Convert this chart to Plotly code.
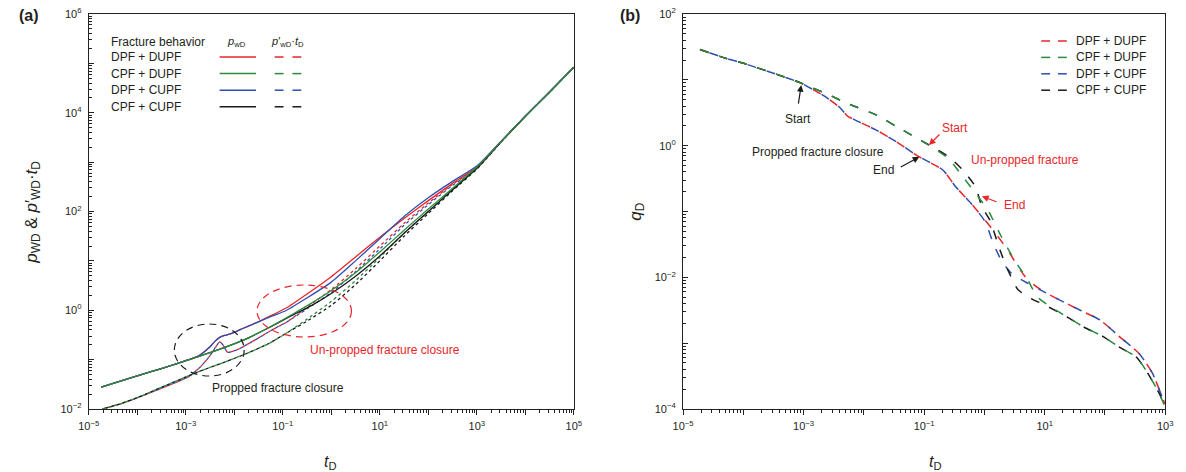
import numpy as np
import plotly.graph_objects as go

W, H = 1186, 472
TOP, BOT = 14, 409          # pixel rows of the plot areas' top and bottom
FONT = "Liberation Sans, Arial, sans-serif"
TXT = "#231f20"
RED, GREEN, BLUE, BLACK = "#e8262a", "#2b8a3e", "#2f4fae", "#1a1a1a"

# ---------------- data, panel (a): log10(tD), log10(p) ----------------
a_red_solid_t = [-4.74, -4.3, -3.9, -3.5, -3.15, -2.9, -2.7, -2.5, -2.4, -2.3, -2.2, -2.08, -1.8, -1.47,
                 -1.2, -0.92, -0.5, 0.0, 0.5, 1.0, 1.5, 2.0, 2.5, 3.0, 3.5, 4.0, 4.5, 5.0]
a_red_solid_p = [-1.555, -1.42, -1.3, -1.18, -1.07, -0.99, -0.9, -0.74, -0.63, -0.55, -0.51, -0.48, -0.36, -0.22,
                 -0.09, 0.05, 0.33, 0.68, 1.08, 1.48, 1.86, 2.22, 2.57, 2.9, 3.42, 3.93, 4.42, 4.92]
a_blue_solid_t = [-4.74, -4.3, -3.9, -3.5, -3.15, -2.9, -2.7, -2.5, -2.4, -2.3, -2.2, -2.08, -1.8, -1.47,
                  -1.2, -0.92, -0.5, 0.0, 0.5, 1.0, 1.5, 2.0, 2.5, 3.0, 3.5, 4.0, 4.5, 5.0]
a_blue_solid_p = [-1.555, -1.42, -1.3, -1.18, -1.07, -0.99, -0.9, -0.74, -0.63, -0.55, -0.51, -0.48, -0.36, -0.22,
                  -0.11, 0.0, 0.25, 0.57, 1.0, 1.45, 1.9, 2.28, 2.61, 2.92, 3.42, 3.93, 4.42, 4.92]
a_green_solid_t = [-4.74, -4.3, -3.9, -3.5, -3.15, -2.5, -1.8, -1.3, -0.78, -0.4, 0.0, 0.5, 1.0,
                   1.5, 2.0, 2.5, 3.0, 3.5, 4.0, 4.5, 5.0]
a_green_solid_p = [-1.555, -1.42, -1.3, -1.18, -1.07, -0.86, -0.6, -0.36, -0.07, 0.15, 0.4, 0.76, 1.18,
                   1.62, 2.05, 2.47, 2.9, 3.42, 3.93, 4.42, 4.92]
a_black_solid_t = [-4.74, -4.3, -3.9, -3.5, -3.15, -2.5, -1.8, -1.3, -0.78, -0.4, 0.0, 0.5, 1.0,
                   1.5, 2.0, 2.5, 3.0, 3.5, 4.0, 4.5, 5.0]
a_black_solid_p = [-1.555, -1.42, -1.3, -1.18, -1.07, -0.86, -0.6, -0.36, -0.09, 0.1, 0.34, 0.69, 1.1,
                   1.56, 2.0, 2.44, 2.88, 3.41, 3.93, 4.42, 4.92]

a_red_dash_t = [-4.72, -4.3, -3.97, -3.5, -2.95, -2.7, -2.5, -2.38, -2.3, -2.22, -2.14, -1.94, -1.5, -1.19,
                -0.92, -0.5, 0.0, 0.5, 1.0, 1.5, 2.0, 2.5, 3.0, 3.5, 4.0, 4.5, 5.0]
a_red_dash_p = [-2.0, -1.88, -1.76, -1.58, -1.35, -1.15, -0.92, -0.74, -0.64, -0.72, -0.85, -0.8, -0.56, -0.38,
                -0.24, 0.06, 0.42, 0.84, 1.3, 1.76, 2.17, 2.55, 2.88, 3.41, 3.93, 4.42, 4.92]
a_blue_dash_t = [-4.72, -4.3, -3.97, -3.5, -2.95, -2.7, -2.5, -2.38, -2.3, -2.22, -2.14, -1.94, -1.5, -1.19,
                 -0.92, -0.5, 0.0, 0.5, 1.0, 1.5, 2.0, 2.5, 3.0, 3.5, 4.0, 4.5, 5.0]
a_blue_dash_p = [-2.0, -1.88, -1.76, -1.58, -1.35, -1.15, -0.92, -0.74, -0.64, -0.72, -0.85, -0.8, -0.56, -0.38,
                 -0.24, 0.03, 0.36, 0.78, 1.24, 1.72, 2.14, 2.53, 2.87, 3.41, 3.93, 4.42, 4.92]
a_green_dash_t = [-4.72, -4.3, -3.97, -3.5, -2.75, -2.2, -1.73, -1.3, -0.92, -0.5, 0.0, 0.5, 1.0,
                  1.5, 2.0, 2.5, 3.0, 3.5, 4.0, 4.5, 5.0]
a_green_dash_p = [-2.0, -1.88, -1.76, -1.56, -1.25, -1.05, -0.87, -0.68, -0.46, -0.18, 0.18, 0.6, 1.07,
                  1.56, 2.0, 2.45, 2.87, 3.41, 3.93, 4.42, 4.92]
a_black_dash_t = [-4.72, -4.3, -3.97, -3.5, -2.75, -2.2, -1.73, -1.3, -0.92, -0.5, 0.0, 0.5, 1.0,
                  1.5, 2.0, 2.5, 3.0, 3.5, 4.0, 4.5, 5.0]
a_black_dash_p = [-2.0, -1.88, -1.76, -1.56, -1.25, -1.05, -0.87, -0.68, -0.46, -0.22, 0.1, 0.52, 1.0,
                  1.5, 1.96, 2.42, 2.86, 3.41, 3.93, 4.42, 4.92]

# ---------------- data, panel (b): log10(tD), log10(qD) ----------------
b_green_t = [-4.72, -4.3, -3.96, -3.5, -3.04, -2.6, -2.27, -1.78, -1.46, -0.92, -0.59, -0.36, -0.1, 0.06,
             0.28, 0.5, 0.72, 0.88, 1.1, 1.37, 1.64, 1.97, 2.24, 2.52, 2.68, 2.9, 3.0]
b_green_q = [1.46, 1.33, 1.24, 1.1, 0.95, 0.78, 0.64, 0.46, 0.29, 0.01, -0.2, -0.47, -0.78, -0.98,
             -1.38, -1.74, -2.04, -2.3, -2.45, -2.6, -2.75, -2.9, -3.06, -3.21, -3.41, -3.76, -3.98]
b_black_t = [-4.72, -4.3, -3.96, -3.5, -3.04, -2.6, -2.27, -1.78, -1.46, -0.92, -0.59, -0.36, -0.15, -0.04,
             0.09, 0.26, 0.39, 0.56, 0.77, 1.0, 1.37, 1.64, 1.97, 2.24, 2.52, 2.68, 2.9, 3.0]
b_black_q = [1.46, 1.33, 1.24, 1.1, 0.95, 0.78, 0.64, 0.46, 0.29, 0.01, -0.17, -0.37, -0.62, -0.93,
             -1.13, -1.59, -1.89, -2.19, -2.32, -2.42, -2.6, -2.75, -2.9, -3.06, -3.21, -3.41, -3.76, -3.98]
b_red_t = [-4.72, -4.3, -3.96, -3.5, -3.04, -2.8, -2.6, -2.4, -2.27, -2.1, -1.8, -1.5, -1.08, -0.69, -0.48,
           -0.2, 0.01, 0.2, 0.39, 0.56, 0.72, 0.99, 1.26, 1.59, 1.92, 2.24, 2.57, 2.79, 2.95, 3.0]
b_red_q = [1.46, 1.33, 1.24, 1.1, 0.95, 0.83, 0.72, 0.58, 0.45, 0.37, 0.24, 0.08, -0.17, -0.37, -0.62,
           -0.9, -1.13, -1.35, -1.59, -1.84, -2.04, -2.22, -2.35, -2.5, -2.65, -2.9, -3.16, -3.46, -3.82, -3.93]
b_blue_t = [-4.72, -4.3, -3.96, -3.5, -3.04, -2.8, -2.6, -2.4, -2.27, -2.1, -1.8, -1.5, -1.08, -0.69, -0.48,
            -0.2, 0.01, 0.15, 0.28, 0.45, 0.72, 0.99, 1.26, 1.59, 1.92, 2.24, 2.57, 2.79, 2.95, 3.0]
b_blue_q = [1.46, 1.33, 1.24, 1.1, 0.95, 0.83, 0.72, 0.58, 0.45, 0.37, 0.24, 0.08, -0.17, -0.37, -0.62,
            -0.9, -1.15, -1.49, -1.74, -1.94, -2.09, -2.22, -2.35, -2.5, -2.65, -2.9, -3.16, -3.46, -3.82, -3.93]

legend_a_rows = ["DPF + DUPF", "CPF + DUPF", "DPF + CUPF", "CPF + CUPF"]
legend_a_colors = [RED, GREEN, BLUE, BLACK]
legend_b_rows = ["DPF + DUPF", "CPF + DUPF", "DPF + CUPF", "CPF + CUPF"]
legend_b_colors = [RED, GREEN, BLUE, BLACK]


def px(x):
    return x / W


def py(y):
    return (BOT - y) / (BOT - TOP)


def sup(k):
    s = str(k).replace("-", "\u2212")
    return f"10<sup>{s}</sup>"


def log_axis(lo, hi, domain, anchor, ticks):
    vals = [10.0 ** k for k in range(lo, hi + 1)]
    text = [sup(k) if (k - lo) % 2 == 0 else "" for k in range(lo, hi + 1)]
    minor = [m * 10.0 ** k for k in range(lo, hi) for m in range(2, 10)]
    return dict(type="log", range=[lo, hi], domain=domain, anchor=anchor,
                tickmode="array", tickvals=vals, ticktext=text,
                ticks=ticks, ticklen=5, tickwidth=1, tickcolor="#222",
                minor=dict(tickmode="array", tickvals=minor, ticks=ticks, ticklen=3,
                           tickwidth=0.8, tickcolor="#222", showgrid=False),
                showline=True, linecolor="#222", linewidth=1.2, mirror=True,
                showgrid=False, zeroline=False,
                tickfont=dict(family=FONT, size=11, color=TXT))


fig = go.Figure()


def add(t, v, color, dash, width, xa, ya, smooth=0.6):
    fig.add_trace(go.Scatter(x=10 ** np.array(t), y=10 ** np.array(v), mode="lines",
                             line=dict(color=color, width=width, dash=dash, shape="spline",
                                       smoothing=smooth),
                             xaxis=xa, yaxis=ya, hoverinfo="skip", showlegend=False))


# panel (a): derivatives (dashed) first, then pressures (solid)
DA = "3px,3px"
DA_OFF = "0px,3px,3px,0px"
add(a_red_dash_t, a_red_dash_p, RED, DA, 1.3, "x", "y")
add(a_blue_dash_t, a_blue_dash_p, BLUE, DA_OFF, 1.3, "x", "y")
add(a_black_dash_t, a_black_dash_p, BLACK, DA_OFF, 1.3, "x", "y")
add(a_green_dash_t, a_green_dash_p, GREEN, DA, 1.3, "x", "y")
add(a_black_solid_t, a_black_solid_p, BLACK, "solid", 1.3, "x", "y")
add(a_red_solid_t, a_red_solid_p, RED, "solid", 1.3, "x", "y")
add(a_blue_solid_t, a_blue_solid_p, BLUE, "solid", 1.3, "x", "y")
add(a_green_solid_t, a_green_solid_p, GREEN, "solid", 1.3, "x", "y")

# panel (b)
DB = "9px,11px"
DB_OFF = "0px,10px,9px,1px"
add(b_red_t, b_red_q, RED, DB, 1.5, "x2", "y2")
add(b_blue_t, b_blue_q, BLUE, DB_OFF, 1.5, "x2", "y2")
add(b_black_t, b_black_q, BLACK, DB, 1.5, "x2", "y2")
add(b_green_t, b_green_q, GREEN, DB, 1.5, "x2", "y2")

fig.update_layout(
    width=W, height=H, margin=dict(l=0, r=0, t=TOP, b=H - BOT),
    plot_bgcolor="white", paper_bgcolor="white", showlegend=False,
    font=dict(family=FONT, color=TXT),
    xaxis=log_axis(-5, 5, [px(79), px(572)], "y", "outside"),
    yaxis=log_axis(-2, 6, [0, 1], "x", "inside"),
    xaxis2=log_axis(-5, 3, [px(683), px(1173)], "y2", "outside"),
    yaxis2=log_axis(-4, 2, [0, 1], "x2", "inside"),
)
fig.update_yaxes(ticklabelstandoff=4)
fig.update_xaxes(ticklabelstandoff=2)

ann = []
shapes = []


def text(x, y, s, size=12, color=TXT, xanchor="center", **kw):
    ann.append(dict(x=px(x), y=py(y), xref="paper", yref="paper", text=s, showarrow=False,
                    xanchor=xanchor, yanchor="middle", font=dict(family=FONT, size=size, color=color), **kw))


def hline(x0, x1, y, color, width=1.5):
    shapes.append(dict(type="line", xref="paper", yref="paper", x0=px(x0), x1=px(x1),
                       y0=py(y), y1=py(y), line=dict(color=color, width=width)))


# panel labels
text(18, 15, "<b>(a)</b>", size=16)
text(629, 15, "<b>(b)</b>", size=16)

# axis titles
text(325, 462, "<i>t</i><sub>D</sub>", size=16)
text(940, 462, "<i>t</i><sub>D</sub>", size=16)
text(22, 212, "<i>p</i><sub>WD</sub> &amp; <i>p</i>\u2032<sub>WD</sub>\u00b7<i>t</i><sub>D</sub>", size=17, textangle=-90)
text(636, 212, "<i>q</i><sub>D</sub>", size=17, textangle=-90)

# legend panel (a)
text(100, 42, "Fracture behavior", xanchor="left")
text(229, 42, "<i>p</i><sub>wD</sub>", size=11)
text(281, 42, "<i>p</i>\u2032<sub>wD</sub>\u00b7<i>t</i><sub>D</sub>", size=11)
for i, (lab, col) in enumerate(zip(legend_a_rows, legend_a_colors)):
    yy = 57 + i * 16.6
    text(100, yy, lab, xanchor="left")
    hline(212, 249, yy, col)
    hline(268, 277, yy, col)
    hline(286, 295, yy, col)

# legend panel (b)
for i, (lab, col) in enumerate(zip(legend_b_rows, legend_b_colors)):
    yy = 41 + i * 16.4
    text(1080, yy, lab, xanchor="left")
    hline(1047, 1056, yy, col)
    hline(1064, 1073, yy, col)

# panel (a) annotations
shapes.append(dict(type="circle", xref="paper", yref="paper", x0=px(166), x1=px(237),
                   y0=py(376), y1=py(324), line=dict(color=BLACK, width=1.2, dash="7px,5px")))
shapes.append(dict(type="circle", xref="paper", yref="paper", x0=px(250), x1=px(346),
                   y0=py(337), y1=py(285), line=dict(color=RED, width=1.2, dash="7px,5px")))
text(271, 388, "Propped fracture closure")
text(380, 350, "Un-propped fracture closure", color=RED)

# panel (b) annotations
text(800, 119, "Start")
text(820, 152, "Propped fracture closure")
text(887, 170, "End")
text(959, 128, "Start", color=RED)
text(1031, 160, "Un-propped fracture", color=RED)
text(1020, 205, "End", color=RED)


def arrow(lt, lq, ax, ay, color):
    ann.append(dict(x=lt, y=lq, xref="x2", yref="y2", text="", showarrow=True, ax=ax, ay=ay,
                    arrowhead=2, arrowsize=1.1, arrowwidth=1.2, arrowcolor=color))


arrow(-3.04, 0.92, -3, 20, BLACK)
arrow(-1.08, -0.17, -20, 11, BLACK)
arrow(-0.92, 0.01, 12, -12, RED)
arrow(-0.04, -0.77, 16, 6, RED)

fig.update_layout(annotations=ann, shapes=shapes)
fig.write_html("out.html")
